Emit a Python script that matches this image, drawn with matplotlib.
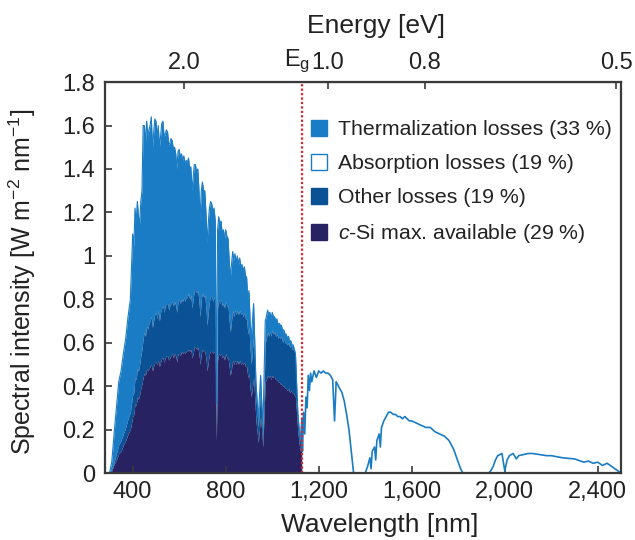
import matplotlib
matplotlib.use("Agg")
import matplotlib.pyplot as plt
from matplotlib.patches import Patch

plt.rcParams["font.family"] = ["Liberation Sans", "DejaVu Sans"]
plt.rcParams["mathtext.fontset"] = "custom"
plt.rcParams["mathtext.rm"] = "Liberation Sans"
plt.rcParams["mathtext.it"] = "Liberation Sans:italic"

OUT_PATH = "out.png"

# c-Si band gap position (nm)
eg_nm = 1127

# spectrum below the band gap: total, top of "other losses", available part
wl_below = [300, 310, 320, 330, 340, 350, 360, 370, 380, 390,
            400, 405, 410, 415, 420, 425, 430, 435, 440, 445,
            450, 455, 460, 465, 470, 475, 480, 485, 490, 495,
            500, 505, 510, 515, 520, 525, 530, 535, 540, 545,
            550, 555, 560, 565, 570, 575, 580, 585, 590, 595,
            600, 605, 610, 615, 620, 625, 630, 635, 640, 645,
            650, 655, 660, 665, 670, 675, 680, 685, 690, 695,
            700, 705, 710, 715, 720, 725, 730, 735, 740, 745,
            750, 755, 760, 765, 770, 775, 780, 785, 790, 795,
            800, 805, 810, 815, 820, 825, 830, 835, 840, 845,
            850, 855, 860, 865, 870, 875, 880, 885, 890, 895,
            900, 905, 910, 920, 930, 940, 950, 960, 970, 975,
            980, 985, 990, 995, 1000, 1005, 1010, 1015, 1020, 1025,
            1030, 1035, 1040, 1045, 1050, 1055, 1060, 1065, 1070, 1075,
            1080, 1085, 1090, 1095, 1100, 1110, 1120, 1127]
total_below = [0.00, 0.05, 0.18, 0.30, 0.42, 0.47, 0.55, 0.62, 0.72, 0.80,
               1.10, 1.04, 1.22, 1.16, 1.25, 1.18, 1.15, 1.25, 1.30, 1.60,
               1.60, 1.52, 1.62, 1.55, 1.58, 1.60, 1.64, 1.50, 1.56, 1.63,
               1.62, 1.55, 1.60, 1.50, 1.55, 1.61, 1.62, 1.55, 1.56, 1.58,
               1.57, 1.51, 1.52, 1.54, 1.53, 1.49, 1.50, 1.47, 1.40, 1.48,
               1.49, 1.45, 1.47, 1.44, 1.46, 1.42, 1.44, 1.43, 1.45, 1.40,
               1.41, 1.30, 1.36, 1.42, 1.42, 1.38, 1.40, 1.30, 1.17, 1.30,
               1.34, 1.30, 1.30, 1.20, 1.06, 1.15, 1.22, 1.25, 1.24, 1.20,
               1.22, 1.16, 0.32, 1.12, 1.18, 1.15, 1.16, 1.10, 1.12, 1.08,
               1.12, 1.09, 1.08, 0.98, 0.90, 0.96, 1.02, 0.98, 1.01, 0.97,
               1.00, 0.96, 0.99, 0.95, 0.96, 0.93, 0.95, 0.91, 0.90, 0.80,
               0.84, 0.70, 0.62, 0.78, 0.42, 0.25, 0.45, 0.20, 0.70, 0.72,
               0.75, 0.73, 0.74, 0.71, 0.74, 0.72, 0.72, 0.70, 0.71, 0.68,
               0.69, 0.68, 0.68, 0.65, 0.66, 0.64, 0.64, 0.62, 0.63, 0.60,
               0.61, 0.59, 0.59, 0.57, 0.55, 0.28, 0.15, 0.25]
other_below = [0.00, 0.02, 0.05, 0.09, 0.13, 0.15, 0.18, 0.21, 0.25, 0.28,
               0.36, 0.37, 0.44, 0.43, 0.48, 0.47, 0.50, 0.54, 0.57, 0.62,
               0.65, 0.63, 0.68, 0.66, 0.69, 0.70, 0.72, 0.67, 0.70, 0.73,
               0.74, 0.71, 0.75, 0.70, 0.74, 0.76, 0.77, 0.74, 0.77, 0.78,
               0.78, 0.75, 0.77, 0.78, 0.79, 0.77, 0.79, 0.77, 0.74, 0.79,
               0.80, 0.78, 0.80, 0.79, 0.81, 0.79, 0.81, 0.81, 0.83, 0.80,
               0.82, 0.76, 0.80, 0.84, 0.84, 0.83, 0.84, 0.79, 0.72, 0.80,
               0.83, 0.81, 0.82, 0.76, 0.68, 0.74, 0.79, 0.82, 0.81, 0.79,
               0.81, 0.78, 0.22, 0.76, 0.80, 0.78, 0.80, 0.77, 0.78, 0.76,
               0.79, 0.77, 0.77, 0.70, 0.65, 0.70, 0.75, 0.72, 0.75, 0.73,
               0.75, 0.73, 0.75, 0.73, 0.74, 0.72, 0.74, 0.71, 0.71, 0.64,
               0.67, 0.57, 0.50, 0.63, 0.35, 0.21, 0.38, 0.17, 0.60, 0.62,
               0.65, 0.63, 0.65, 0.63, 0.66, 0.64, 0.65, 0.63, 0.64, 0.62,
               0.63, 0.62, 0.63, 0.60, 0.62, 0.60, 0.60, 0.59, 0.60, 0.58,
               0.59, 0.57, 0.57, 0.56, 0.54, 0.28, 0.15, 0.25]
avail_below = [0.00, 0.01, 0.04, 0.06, 0.09, 0.10, 0.13, 0.15, 0.18, 0.20,
               0.26, 0.27, 0.32, 0.31, 0.35, 0.34, 0.36, 0.39, 0.41, 0.44,
               0.46, 0.45, 0.48, 0.47, 0.48, 0.49, 0.50, 0.47, 0.49, 0.51,
               0.51, 0.50, 0.52, 0.49, 0.51, 0.53, 0.53, 0.51, 0.53, 0.54,
               0.54, 0.52, 0.53, 0.54, 0.55, 0.53, 0.55, 0.54, 0.51, 0.55,
               0.55, 0.54, 0.56, 0.55, 0.56, 0.55, 0.56, 0.56, 0.57, 0.56,
               0.57, 0.53, 0.55, 0.58, 0.58, 0.57, 0.58, 0.55, 0.50, 0.55,
               0.57, 0.56, 0.56, 0.53, 0.47, 0.51, 0.55, 0.56, 0.56, 0.55,
               0.56, 0.54, 0.15, 0.52, 0.55, 0.54, 0.55, 0.53, 0.54, 0.52,
               0.55, 0.53, 0.53, 0.49, 0.45, 0.48, 0.52, 0.50, 0.52, 0.50,
               0.52, 0.50, 0.52, 0.50, 0.51, 0.50, 0.51, 0.49, 0.49, 0.44,
               0.46, 0.39, 0.35, 0.44, 0.24, 0.14, 0.26, 0.12, 0.42, 0.43,
               0.45, 0.44, 0.45, 0.43, 0.45, 0.44, 0.44, 0.43, 0.43, 0.42,
               0.42, 0.41, 0.41, 0.40, 0.40, 0.39, 0.39, 0.38, 0.39, 0.37,
               0.38, 0.37, 0.37, 0.36, 0.35, 0.19, 0.10, 0.17]

# spectrum above the band gap (not absorbed)
wl_above = [1127, 1130, 1135, 1140, 1145, 1150, 1155, 1160, 1165, 1170,
            1180, 1190, 1200, 1210, 1220, 1230, 1240, 1250, 1260, 1268,
            1275, 1280, 1290, 1300, 1310, 1320, 1330, 1340, 1350, 1400,
            1410, 1420, 1425, 1430, 1440, 1445, 1450, 1460, 1465, 1470,
            1480, 1490, 1500, 1510, 1520, 1530, 1540, 1550, 1560, 1570,
            1580, 1590, 1600, 1620, 1640, 1660, 1680, 1700, 1720, 1740,
            1760, 1780, 1790, 1800, 1810, 1820, 1930, 1940, 1950, 1960,
            1970, 1988, 2000, 2010, 2020, 2036, 2050, 2060, 2080, 2100,
            2120, 2150, 2180, 2200, 2250, 2300, 2340, 2360, 2380, 2400,
            2420, 2440, 2460, 2480, 2500]
total_above = [0.25, 0.10, 0.28, 0.18, 0.35, 0.30, 0.45, 0.38, 0.46, 0.42,
               0.47, 0.44, 0.47, 0.46, 0.47, 0.46, 0.46, 0.45, 0.43, 0.24,
               0.42, 0.41, 0.39, 0.37, 0.33, 0.27, 0.20, 0.10, 0.00, 0.00,
               0.03, 0.07, 0.02, 0.10, 0.12, 0.06, 0.15, 0.18, 0.12, 0.21,
               0.24, 0.26, 0.28, 0.28, 0.27, 0.27, 0.26, 0.26, 0.25, 0.26,
               0.25, 0.24, 0.24, 0.23, 0.22, 0.21, 0.21, 0.19, 0.18, 0.17,
               0.15, 0.11, 0.08, 0.05, 0.02, 0.00, 0.00, 0.01, 0.03, 0.06,
               0.08, 0.09, 0.01, 0.06, 0.08, 0.09, 0.065, 0.08, 0.085, 0.09,
               0.09, 0.085, 0.08, 0.08, 0.07, 0.065, 0.05, 0.055, 0.045, 0.05,
               0.035, 0.045, 0.03, 0.015, 0.00]

x_ticks = [400, 800, 1200, 1600, 2000, 2400]
x_tick_labels = ["400", "800", "1,200", "1,600", "2,000", "2,400"]
y_ticks = [0, 0.2, 0.4, 0.6, 0.8, 1.0, 1.2, 1.4, 1.6, 1.8]
y_tick_labels = ["0", "0.2", "0.4", "0.6", "0.8", "1", "1.2", "1.4", "1.6", "1.8"]
energy_tick_nm = [620, 1240, 1655, 2480]
energy_tick_labels = ["2.0", "1.0", "0.8", "0.5"]

legend_labels = ["Thermalization losses (33 %)", "Absorption losses (19 %)",
                 "Other losses (19 %)", "$c$-Si max. available (29 %)"]

c_therm = "#1a7cc4"
c_other = "#0b5195"
c_avail = "#272262"
c_eg = "#d7262e"
c_axis = "#3a3a3a"
c_text = "#222222"

fig = plt.figure(figsize=(6.35, 5.4), dpi=100)
ax = fig.add_axes([0.165, 0.124, 0.813, 0.724])

ax.fill_between(wl_below, other_below, total_below, color=c_therm, lw=0)
ax.fill_between(wl_below, avail_below, other_below, color=c_other, lw=0)
ax.fill_between(wl_below, 0, avail_below, color=c_avail, lw=0)
ax.plot(wl_below, total_below, color=c_therm, lw=0.8)
ax.plot(wl_above, total_above, color=c_therm, lw=1.2)

ax.axvline(eg_nm, color=c_eg, ls=(0, (1, 1)), lw=1.6)

ax.set_xlim(280, 2500)
ax.set_ylim(0, 1.8)
ax.set_xticks(x_ticks)
ax.set_xticklabels(x_tick_labels)
ax.set_yticks(y_ticks)
ax.set_yticklabels(y_tick_labels)
ax.tick_params(direction="in", length=5, width=1.2, color=c_axis,
               labelsize=17, pad=6, labelcolor=c_text)
ax.tick_params(axis="y", pad=7)
for s in ax.spines.values():
    s.set_linewidth(1.6)
    s.set_color(c_axis)

ax.set_xlabel("Wavelength [nm]", fontsize=19, color=c_text)
ax.xaxis.set_label_coords(0.533, -0.102)
ax.set_ylabel("Spectral intensity [W m$^{-2}$ nm$^{-1}$]", fontsize=18,
              color=c_text)
ax.yaxis.set_label_coords(-0.13, 0.49)

# energy scale on top
top = ax.secondary_xaxis("top")
top.set_xticks(energy_tick_nm)
top.set_xticklabels(energy_tick_labels)
top.tick_params(direction="in", length=5, width=1.2, color=c_axis,
                labelsize=17, pad=6, labelcolor=c_text)
fig.text(376 / 635, 1 - 26 / 540, "Energy [eV]", ha="center", va="center",
         fontsize=19, color=c_text)

ax.text(1162, 1.041, "E$_\\mathrm{g}$", transform=ax.get_xaxis_transform(),
        ha="right", va="baseline", fontsize=17, color=c_text)

handles = [Patch(facecolor=c_therm, edgecolor=c_therm),
           Patch(facecolor="white", edgecolor=c_therm, lw=1),
           Patch(facecolor=c_other, edgecolor=c_other),
           Patch(facecolor=c_avail, edgecolor=c_avail)]
ax.legend(handles, legend_labels, loc="upper left", bbox_to_anchor=(0.399, 0.903),
          frameon=False, fontsize=15.3, handlelength=0.75, handleheight=0.75,
          handletextpad=0.55, labelspacing=0.7, borderpad=0, borderaxespad=0,
          labelcolor=c_text)

plt.savefig(OUT_PATH, dpi=100)
